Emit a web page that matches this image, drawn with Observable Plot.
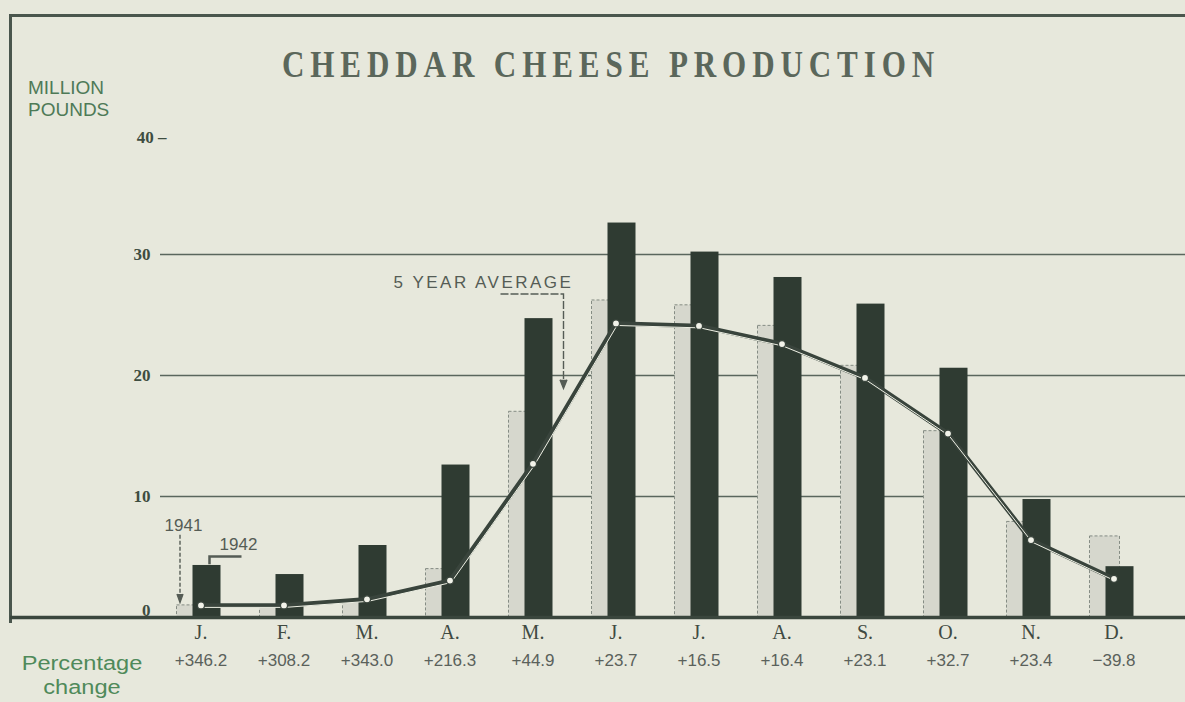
<!DOCTYPE html>
<html><head><meta charset="utf-8">
<script src="https://cdn.jsdelivr.net/npm/d3@7"></script>
<script src="https://cdn.jsdelivr.net/npm/@observablehq/plot@0.6"></script>
<style>
html,body{margin:0;padding:0;background:#e7e8dc;}
#wrap{position:relative;width:1185px;height:702px;overflow:hidden;background:#e7e8dc;}
#border{position:absolute;left:9px;top:14px;width:1300px;height:606px;border-left:3px solid #4a564d;border-top:3px solid #4a564d;}
#title{position:absolute;top:43px;left:611px;white-space:nowrap;font-family:"Liberation Serif",serif;font-weight:bold;font-size:37px;letter-spacing:7px;color:#5b675b;transform:translateX(-50%) scaleX(0.84);}
.ylab{position:absolute;left:28px;font-family:"Liberation Sans",Arial,sans-serif;font-size:19px;line-height:19px;color:#4e7a57;}
.pct{position:absolute;left:12px;width:140px;text-align:center;font-family:"Liberation Sans",sans-serif;font-size:20px;line-height:23px;height:23px;color:#4f8a5a;transform:scaleX(1.18);}
#chart{position:absolute;left:0;top:0;}
</style>
</head><body>
<div id="wrap">
  <div id="border"></div>
  <div id="title">CHEDDAR CHEESE PRODUCTION</div>
  <div class="ylab" style="top:78px">MILLION</div>
  <div class="ylab" style="top:100px">POUNDS</div>
  <div class="pct" style="top:652px">Percentage</div>
  <div class="pct" style="top:676px">change</div>
  <div id="chart"></div>
</div>
<script>
// ---- data (million pounds) ----
const months = ["Jan","Feb","Mar","Apr","May","Jun","Jul","Aug","Sep","Oct","Nov","Dec"];
const monthLabels = ["J.","F.","M.","A.","M.","J.","J.","A.","S.","O.","N.","D."];
const prod1941 = [1.0, 0.9, 1.35, 4.0, 17.0, 26.2, 25.8, 24.1, 20.8, 15.4, 7.9, 6.7];
const prod1942 = [4.3, 3.55, 5.95, 12.6, 24.7, 32.6, 30.2, 28.1, 25.9, 20.6, 9.75, 4.2];
const avg5yr   = [1.0, 1.0, 1.5, 3.05, 12.7, 24.3, 24.1, 22.6, 19.8, 15.2, 6.4, 3.2];
const pctChange = ["+346.2","+308.2","+343.0","+216.3","+44.9","+23.7","+16.5","+16.4","+23.1","+32.7","+23.4","\u221239.8"];
const yTicks = [10, 20, 30];
const yTickLabels = ["10", "20", "30"];
const yZeroTick = [0];
const yZeroLabel = ["0"];
const yTopTick = [40];
const yTopLabel = ["40 \u2013"];

const data = months.map((m, i) => ({
  month: m, label: monthLabels[i], y41: prod1941[i], y42: prod1942[i], avg: avg5yr[i], pct: pctChange[i]
}));
const ticks = yTicks.map((v, i) => ({v, label: yTickLabels[i]}));
const zeroTick = yZeroTick.map((v, i) => ({v, label: yZeroLabel[i]}));
const topTick = yTopTick.map((v, i) => ({v, label: yTopLabel[i]}));

const dark = "#2f3b32";
const tickFont = {fontFamily: "Liberation Serif, serif", fontWeight: "bold", fontSize: 17, fill: "#3e4d41"};
const chart = Plot.plot({
  width: 1185, height: 702,
  marginTop: 133, marginBottom: 85, marginLeft: 10, marginRight: 0,
  style: {background: "transparent", overflow: "visible"},
  x: {type: "band", domain: months, range: [158, 1155], padding: 0, axis: null},
  y: {domain: [0, 40], axis: null},
  marks: [
    Plot.ruleY([10, 20, 30], {insetLeft: 150, stroke: "#5a665d", strokeWidth: 1.5}),
    Plot.barY(data, {x: "month", y: "y41", fill: "#d6d7cd", stroke: "#858c84", strokeWidth: 1, strokeDasharray: "3,2", insetLeft: 17.5, insetRight: 35.5}),
    Plot.barY(data, {x: "month", y: "y42", fill: dark, insetLeft: 33.5, insetRight: 21.5}),
    Plot.ruleY([0], {stroke: "#3a463d", strokeWidth: 3.5}),
    Plot.line(data, {x: "month", y: "avg", stroke: "#39443c", strokeWidth: 4.5}),
    Plot.line(data, {x: "month", y: "avg", stroke: "#eef0e4", strokeWidth: 1, dy: 2, dx: 1}),
    Plot.dot(data, {x: "month", y: "avg", r: 3.5, fill: "#f2f3ea", stroke: "#39443c", strokeWidth: 1.2}),
    Plot.text(ticks, {y: "v", text: "label", frameAnchor: "left", dx: 140, textAnchor: "end", ...tickFont}),
    Plot.text(zeroTick, {y: "v", text: "label", frameAnchor: "left", dx: 140, dy: -7, textAnchor: "end", ...tickFont}),
    Plot.text(topTick, {y: "v", text: "label", frameAnchor: "left", dx: 156, dy: 4, textAnchor: "end", ...tickFont}),
    Plot.text(data, {x: "month", text: "label", frameAnchor: "bottom", dy: 21, fontFamily: "Liberation Serif, serif", fontSize: 20, fill: "#404a42"}),
    Plot.text(data, {x: "month", text: "pct", frameAnchor: "bottom", dy: 48, fontFamily: "Liberation Sans, sans-serif", fontSize: 17, letterSpacing: 0.5, fill: "#5a615b"})
  ]
});
document.getElementById("chart").appendChild(chart);

// ---- annotations, positioned through the chart's own scales ----
const sx = chart.scale("x"), sy = chart.scale("y");
const cx = m => sx.apply(m) + sx.bandwidth / 2;
const svg = d3.select(chart);
const g = svg.append("g").attr("fill", "none").attr("stroke", "#555c55").attr("stroke-width", 1.4);
const ann = svg.append("g").attr("font-family", "Liberation Sans, sans-serif").attr("fill", "#555c55");

// 5 year average
ann.append("text").attr("x", cx("May") - 49).attr("y", sy.apply(27.7)).attr("dy", "0.35em")
  .attr("text-anchor", "middle").attr("font-size", 17).attr("letter-spacing", "2.5px").text("5 YEAR AVERAGE");
const xl = cx("May") + 31;
g.append("path").attr("d", `M${cx("May") - 32},${sy.apply(26.7)}H${xl}V${sy.apply(19.0)}`).attr("stroke-dasharray", "8,2");
g.append("path").attr("d", `M${xl - 3.5},${sy.apply(19.6)}L${xl},${sy.apply(18.9)}L${xl + 3.5},${sy.apply(19.6)}`).attr("fill", "#555c55");

// 1941 / 1942
ann.append("text").attr("x", cx("Jan") - 17).attr("y", sy.apply(7.6)).attr("dy", "0.35em")
  .attr("text-anchor", "middle").attr("font-size", 17).text("1941");
ann.append("text").attr("x", cx("Jan") + 38).attr("y", sy.apply(6.0)).attr("dy", "0.35em")
  .attr("text-anchor", "middle").attr("font-size", 17).text("1942");
const x41 = cx("Jan") - 20.5;
g.append("path").attr("d", `M${x41},${sy.apply(6.8)}V${sy.apply(1.25)}`).attr("stroke-dasharray", "4,2");
g.append("path").attr("d", `M${x41 - 3},${sy.apply(1.9)}L${x41},${sy.apply(1.2)}L${x41 + 3},${sy.apply(1.9)}`).attr("fill", "#555c55");
g.append("path").attr("d", `M${cx("Jan") + 41},${sy.apply(5.0)}H${cx("Jan") + 9}V${sy.apply(4.35)}`).attr("stroke-width", 2.5);
</script>
</body></html>
